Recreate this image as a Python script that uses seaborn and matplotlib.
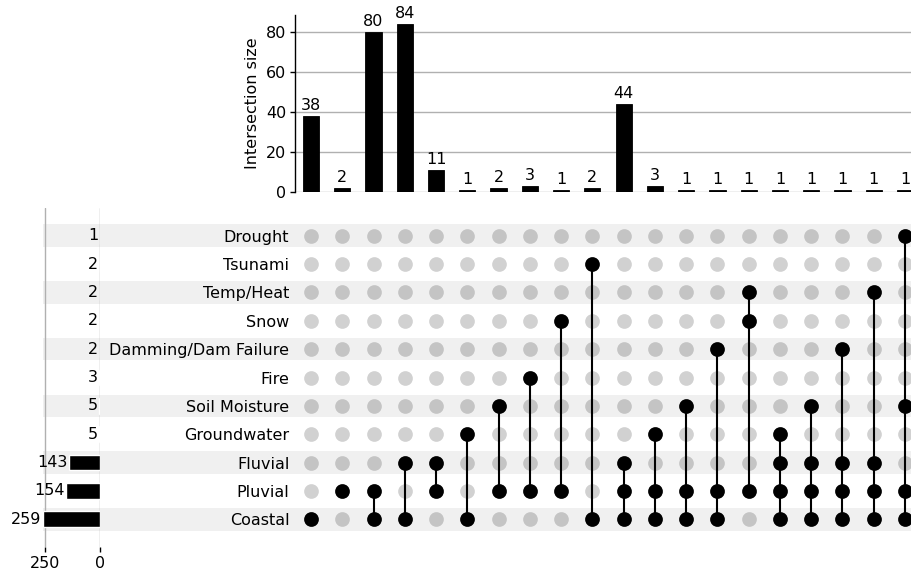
import numpy as np
import pandas as pd
import matplotlib
matplotlib.use("Agg")
import matplotlib.pyplot as plt
import seaborn as sns

# ── data ──────────────────────────────────────────────────────────────────────
categories = ["Drought", "Tsunami", "Temp/Heat", "Snow", "Damming/Dam Failure",
              "Fire", "Soil Moisture", "Groundwater", "Fluvial", "Pluvial", "Coastal"]
set_totals = [1, 2, 2, 2, 2, 3, 5, 5, 143, 154, 259]

intersection_sizes = [38, 2, 80, 84, 11, 1, 2, 3, 1, 2, 44, 3, 1, 1, 1, 1, 1, 1, 1, 1]
intersection_members = [
    ["Coastal"],
    ["Pluvial"],
    ["Pluvial", "Coastal"],
    ["Fluvial", "Coastal"],
    ["Fluvial", "Pluvial"],
    ["Groundwater", "Coastal"],
    ["Soil Moisture", "Pluvial"],
    ["Fire", "Pluvial"],
    ["Snow", "Pluvial"],
    ["Tsunami", "Coastal"],
    ["Fluvial", "Pluvial", "Coastal"],
    ["Groundwater", "Pluvial", "Coastal"],
    ["Soil Moisture", "Pluvial", "Coastal"],
    ["Damming/Dam Failure", "Pluvial", "Coastal"],
    ["Temp/Heat", "Snow", "Pluvial"],
    ["Groundwater", "Fluvial", "Pluvial", "Coastal"],
    ["Soil Moisture", "Fluvial", "Pluvial", "Coastal"],
    ["Damming/Dam Failure", "Fluvial", "Pluvial", "Coastal"],
    ["Temp/Heat", "Fluvial", "Pluvial", "Coastal"],
    ["Drought", "Soil Moisture", "Pluvial", "Coastal"],
]

sns.set_style("white")
plt.rcParams["font.family"] = ["DejaVu Sans"]
plt.rcParams.update({"text.color": "black", "axes.labelcolor": "black",
                     "xtick.color": "black", "ytick.color": "black"})
FS = 11.5

W, H = 912, 574
fig = plt.figure(figsize=(W / 100, H / 100), dpi=100)


def px_box(x0, y0, x1, y1):
    """pixel box (top-left origin) -> figure fraction rect"""
    return [x0 / W, 1 - y1 / H, (x1 - x0) / W, (y1 - y0) / H]


n_cols = len(intersection_sizes)
n_rows = len(categories)
ROW_LIM = (n_rows - 0.02, -0.98)

# ── row shading (spans totals + labels + matrix) ─────────────────────────────
bg = fig.add_axes(px_box(43, 208, 921, 547))
bg.set_ylim(*ROW_LIM)
bg.set_xlim(0, 1)
bg.axis("off")
for i in range(0, n_rows, 2):
    bg.axhspan(i - 0.4, i + 0.4, color="#f0f0f0", lw=0)

# ── intersection size bars ───────────────────────────────────────────────────
ax_bar = fig.add_axes(px_box(295.4, 15, 920.6, 192.3))
bar_df = pd.DataFrame({"col": np.arange(n_cols), "size": intersection_sizes})
sns.barplot(data=bar_df, x="col", y="size", color="black", width=0.52,
            saturation=1, ax=ax_bar, zorder=3, edgecolor="black", linewidth=0.6)
ax_bar.set_xlim(-0.5, n_cols - 0.5)
ax_bar.set_ylim(0, 88.6)
ax_bar.set_yticks([0, 20, 40, 60, 80])
ax_bar.yaxis.grid(True, color="#b0b0b0", lw=1.0, zorder=0)
ax_bar.set_xticks([])
ax_bar.set_xlabel("")
ax_bar.set_ylabel("Intersection size", fontsize=FS, labelpad=4)
for s in ["top", "right", "bottom"]:
    ax_bar.spines[s].set_visible(False)
ax_bar.spines["left"].set_color("black")
ax_bar.spines["left"].set_linewidth(1.0)
ax_bar.tick_params(axis="y", left=True, length=3.6, width=1.0, labelsize=FS, pad=3)
for i, v in enumerate(intersection_sizes):
    ax_bar.annotate(str(v), (i, v), xytext=(0, 2.5), textcoords="offset points",
                    ha="center", va="bottom", fontsize=FS)

# ── matrix ───────────────────────────────────────────────────────────────────
ax_mat = fig.add_axes(px_box(295.4, 208, 920.6, 547))
ax_mat.patch.set_visible(False)
ax_mat.set_xlim(-0.5, n_cols - 0.5)
ax_mat.set_ylim(*ROW_LIM)

row_of = {c: i for i, c in enumerate(categories)}
grid_x, grid_y = np.meshgrid(np.arange(n_cols), np.arange(n_rows))
ax_mat.scatter(grid_x.ravel(), grid_y.ravel(), s=112, color="black", alpha=0.18,
               lw=0, zorder=2, clip_on=False)
for j, mem in enumerate(intersection_members):
    ys = [row_of[m] for m in mem]
    ax_mat.plot([j, j], [min(ys), max(ys)], color="black", lw=1.5, zorder=3,
                solid_capstyle="butt", clip_on=False)
    ax_mat.scatter([j] * len(ys), ys, s=112, color="black", lw=0, zorder=4,
                   clip_on=False)

ax_mat.set_xticks([])
ax_mat.set_yticks(range(n_rows))
ax_mat.set_yticklabels(categories, fontsize=FS)
ax_mat.tick_params(axis="y", length=0, pad=4.4)
for s in ax_mat.spines.values():
    s.set_visible(False)

# ── set totals ───────────────────────────────────────────────────────────────
ax_tot = fig.add_axes(px_box(43, 208, 100, 547))
ax_tot.patch.set_visible(False)
tot_df = pd.DataFrame({"cat": categories, "total": set_totals})
sns.barplot(data=tot_df, x="total", y="cat", orient="h", color="black", width=0.56,
            saturation=1, ax=ax_tot, zorder=3)
ax_tot.set_xlim(259, 0)
ax_tot.set_ylim(*ROW_LIM)
ax_tot.set_xticks([250, 0])
ax_tot.xaxis.grid(True, color="#b0b0b0", lw=1.0, zorder=0)
ax_tot.set_yticks([])
ax_tot.set_xlabel("")
ax_tot.set_ylabel("")
for s in ax_tot.spines.values():
    s.set_visible(False)
ax_tot.tick_params(axis="x", bottom=True, length=3.6, width=1.0, labelsize=FS, pad=3)
for i, v in enumerate(set_totals):
    ax_tot.annotate(str(v), (v, i), xytext=(-1, 0), textcoords="offset points",
                    ha="right", va="center", fontsize=FS, annotation_clip=False)

fig.savefig("out.png", dpi=100)
